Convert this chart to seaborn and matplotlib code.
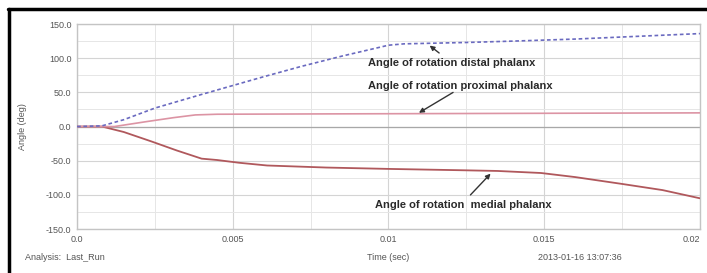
import matplotlib.pyplot as plt
import numpy as np
import pandas as pd
import seaborn as sns
from matplotlib.lines import Line2D
from matplotlib.ticker import MultipleLocator, FixedLocator

# Angle of rotation, distal phalanx (deg)
distal_t = [0.0, 0.0008, 0.0015, 0.0025, 0.004, 0.005, 0.006, 0.0072, 0.0085, 0.0100, 0.0105,
            0.0125, 0.014, 0.016, 0.018, 0.020]
distal_v = [0.0, 1.0, 10.0, 27.0, 47.0, 60.0, 73.0, 88.0, 103.0, 119.0, 121.0,
            123.0, 125.0, 128.0, 132.0, 136.0]

# Angle of rotation, proximal phalanx (deg)
proximal_t = [0.0, 0.0012, 0.0022, 0.0031, 0.0038, 0.0045, 0.008, 0.012, 0.016, 0.020]
proximal_v = [0.0, 0.0, 7.0, 13.0, 17.0, 18.0, 18.5, 19.0, 19.5, 20.0]

# Angle of rotation, medial phalanx (deg)
medial_t = [0.0, 0.0008, 0.0015, 0.0024, 0.0032, 0.004, 0.0045, 0.0052, 0.0061, 0.008, 0.010,
            0.0124, 0.0135, 0.0149, 0.016, 0.0175, 0.0188, 0.020]
medial_v = [0.0, 0.0, -8.0, -22.0, -35.0, -47.0, -49.0, -53.0, -57.0, -60.0, -62.0,
            -64.0, -65.0, -68.0, -74.0, -84.0, -93.0, -105.0]

x_ticks = [0.0, 0.005, 0.01, 0.015, 0.02]
x_tick_labels = ["0.0", "0.005", "0.01", "0.015", "0.02"]
y_ticks = [150, 100, 50, 0, -50, -100, -150]
y_tick_labels = ["150.0", "100.0", "50.0", "0.0", "-50.0", "-100.0", "-150.0"]

sns.set_style("white")
plt.rcParams["font.family"] = ["Liberation Sans", "DejaVu Sans"]

fig = plt.figure(figsize=(7.07, 2.73), dpi=100)
ax = fig.add_axes([0.109, 0.161, 0.881, 0.751])

df_distal = pd.DataFrame({"t": distal_t, "v": distal_v})
df_prox = pd.DataFrame({"t": proximal_t, "v": proximal_v})
df_med = pd.DataFrame({"t": medial_t, "v": medial_v})

# Grid
ax.set_xlim(0, 0.02)
ax.set_ylim(-150, 150)
ax.xaxis.set_major_locator(FixedLocator(x_ticks))
ax.xaxis.set_minor_locator(MultipleLocator(0.0025))
ax.yaxis.set_major_locator(FixedLocator(y_ticks))
ax.yaxis.set_minor_locator(MultipleLocator(25))
ax.grid(which="major", color="#d4d4d4", linewidth=0.8)
ax.grid(which="minor", color="#e6e6e6", linewidth=0.7)
ax.axhline(0, color="#a8a8a8", linewidth=0.9, zorder=1)
ax.set_axisbelow(True)

sns.lineplot(data=df_med, x="t", y="v", ax=ax, color="#b0585c", linewidth=1.3, zorder=3)
sns.lineplot(data=df_prox, x="t", y="v", ax=ax, color="#dc94a4", linewidth=1.2, zorder=3)
sns.lineplot(data=df_distal, x="t", y="v", ax=ax, color="#6a6ac0", linewidth=1.2,
             linestyle=(0, (2.2, 1.6)), zorder=4)

ax.set_xticks(x_ticks, x_tick_labels)
ax.set_yticks(y_ticks, y_tick_labels)
ax.tick_params(axis="both", which="both", length=0, labelsize=6.5, labelcolor="#555555", pad=4)
# last x label sits on the right edge, keep it inside the picture
ax.get_xticklabels()[-1].set_horizontalalignment("right")
ax.set_xlabel("")
ax.set_ylabel("Angle (deg)", fontsize=6.5, color="#555555", labelpad=14)
for s in ax.spines.values():
    s.set_color("#c4c4c4")
    s.set_linewidth(1.0)

# Annotations
arrow = dict(arrowstyle="-|>", color="#333333", lw=1.0, mutation_scale=7)
txt_kw = dict(fontsize=8, fontweight="bold", color="#2a2a2a", ha="left", va="center")
ax.annotate("Angle of rotation distal phalanx", xy=(0.01125, 121), xytext=(0.00935, 93),
            arrowprops=arrow, **txt_kw)
ax.annotate("", xy=(0.01090, 18), xytext=(0.01215, 52), arrowprops=arrow)
ax.text(0.00935, 60, "Angle of rotation proximal phalanx", **txt_kw)
ax.annotate("", xy=(0.01334, -66), xytext=(0.01257, -103), arrowprops=arrow)
ax.text(0.00958, -115, "Angle of rotation  medial phalanx", **txt_kw)

# Footer texts
fig.text(25 / 707, 1 - 257 / 273, "Analysis:  Last_Run", fontsize=6.5, color="#555555",
         ha="left", va="center")
fig.text(388 / 707, 1 - 257 / 273, "Time (sec)", fontsize=6.5, color="#555555",
         ha="center", va="center")
fig.text(580 / 707, 1 - 257 / 273, "2013-01-16 13:07:36", fontsize=6.5, color="#555555",
         ha="center", va="center")

# Black frame (top and left)
fig.add_artist(Line2D([8 / 707, 1.0], [1 - 8.5 / 273, 1 - 8.5 / 273], color="black", linewidth=2.5,
                      transform=fig.transFigure))
fig.add_artist(Line2D([8.5 / 707, 8.5 / 707], [0.0, 1 - 8.5 / 273], color="black", linewidth=2.5,
                      transform=fig.transFigure))

fig.savefig("out.png", dpi=100)
